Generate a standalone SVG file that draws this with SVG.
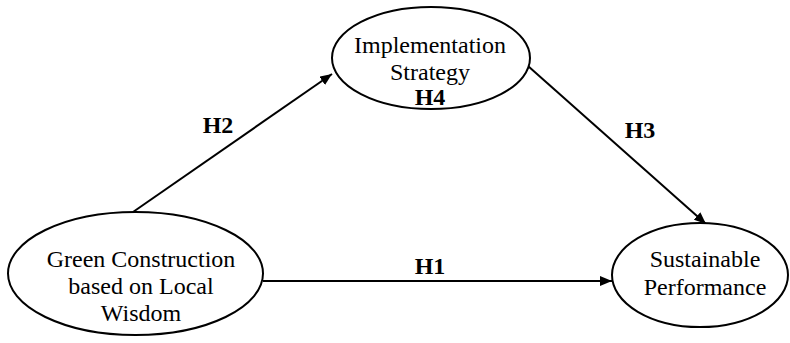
<svg xmlns="http://www.w3.org/2000/svg" width="790" height="343" viewBox="0 0 790 343">
<style>
.node{fill:#fff;stroke:#000;stroke-width:2}
.t{font-family:"Liberation Serif","Times New Roman",serif;font-size:24px;fill:#000;text-anchor:middle}
.b{font-weight:bold}
.edge{stroke:#000;stroke-width:2;fill:none;marker-end:url(#arr)}
</style>
<defs>
<marker id="arr" viewBox="0 0 12 10" refX="12" refY="5" markerWidth="12" markerHeight="10" markerUnits="userSpaceOnUse" orient="auto">
<path d="M0,0 L12,5 L0,10 Z" fill="#000"/>
</marker>
</defs>
<g id="connectors">
<line class="edge" x1="133" y1="212" x2="332" y2="74"/>
<line class="edge" x1="528" y1="66" x2="706" y2="224"/>
<line class="edge" x1="263" y1="281" x2="612" y2="281"/>
<text class="t b" x="218" y="133">H2</text>
<text class="t b" x="640" y="138">H3</text>
<text class="t b" x="430" y="274">H1</text>
</g>
<g id="green">
<ellipse class="node" cx="135.5" cy="273.5" rx="127.5" ry="61.5"/>
<text class="t" x="141" y="267">Green Construction</text>
<text class="t" x="141" y="294">based on Local</text>
<text class="t" x="141" y="321">Wisdom</text>
</g>
<g id="impl">
<ellipse class="node" cx="431" cy="58" rx="99" ry="51"/>
<text class="t" x="430" y="53">Implementation</text>
<text class="t" x="430" y="80">Strategy</text>
<text class="t b" x="430" y="105">H4</text>
</g>
<g id="sust">
<ellipse class="node" cx="700" cy="275" rx="88" ry="52"/>
<text class="t" x="705" y="267">Sustainable</text>
<text class="t" x="705" y="295">Performance</text>
</g>
</svg>
